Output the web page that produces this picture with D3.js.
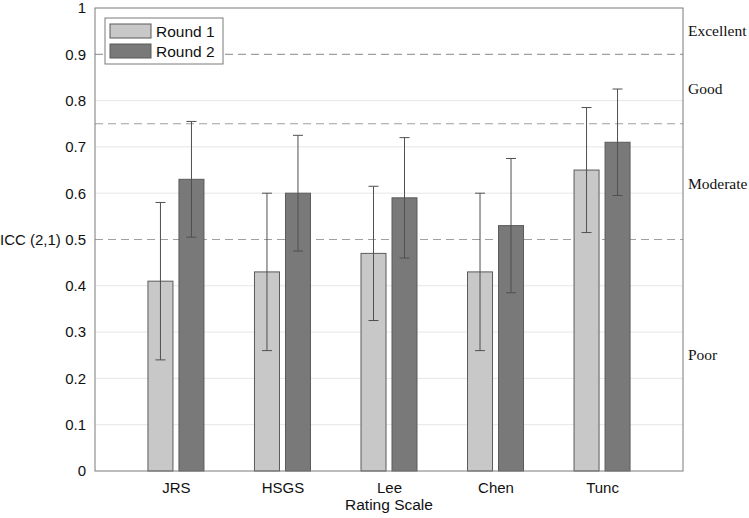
<!DOCTYPE html>
<html>
<head>
<meta charset="utf-8">
<script src="https://cdn.jsdelivr.net/npm/d3@7"></script>
<style>
  body { margin: 0; background: #fff; }
  text { font-family: "Liberation Sans", Arial, sans-serif; }
</style>
</head>
<body>
<svg id="chart" width="749" height="518"></svg>
<script>
// data
const scales = ["JRS", "HSGS", "Lee", "Chen", "Tunc"];
const round1 = [0.41, 0.43, 0.47, 0.43, 0.65];
const round2 = [0.63, 0.60, 0.59, 0.53, 0.71];
const round1Low = [0.24, 0.26, 0.325, 0.26, 0.515];
const round1High = [0.58, 0.60, 0.615, 0.60, 0.785];
const round2Low = [0.505, 0.475, 0.46, 0.385, 0.595];
const round2High = [0.755, 0.725, 0.72, 0.675, 0.825];
const yTicks = [0, 0.1, 0.2, 0.3, 0.4, 0.5, 0.6, 0.7, 0.8, 0.9, 1];
const thresholds = [0.5, 0.75, 0.9];
const bandLabels = [
  {name: "Excellent", v: 0.95},
  {name: "Good", v: 0.825},
  {name: "Moderate", v: 0.62},
  {name: "Poor", v: 0.25}
];

const mLeft = 95, mRight = 683, mTop = 8, mBottom = 471;
const svg = d3.select("#chart");

const x = d3.scalePoint().domain(scales).range([mLeft, mRight]).padding(0.76);
const y = d3.scaleLinear().domain([0, 1]).range([mBottom, mTop]);

// grid
svg.append("g").selectAll("line")
  .data(yTicks.filter(d => d > 0 && d < 1 && thresholds.indexOf(d) < 0))
  .enter().append("line")
  .attr("x1", mLeft).attr("x2", mRight)
  .attr("y1", d => y(d)).attr("y2", d => y(d))
  .attr("stroke", "#e6e6e6").attr("stroke-width", 1);

svg.append("g").selectAll("line")
  .data(thresholds)
  .enter().append("line")
  .attr("x1", mLeft).attr("x2", mRight)
  .attr("y1", d => y(d)).attr("y2", d => y(d))
  .attr("stroke", "#a0a0a0").attr("stroke-width", 1.2)
  .attr("stroke-dasharray", "8,5");

// bars
const bw = 25, gap = 3;
const series = [
  {vals: round1, lo: round1Low, hi: round1High, fill: "#c8c8c8", off: -gap - bw},
  {vals: round2, lo: round2Low, hi: round2High, fill: "#797979", off: gap}
];

series.forEach(s => {
  const g = svg.append("g");
  g.selectAll("rect").data(scales).enter().append("rect")
    .attr("x", (d) => x(d) + s.off)
    .attr("width", bw)
    .attr("y", (d, i) => y(s.vals[i]))
    .attr("height", (d, i) => mBottom - y(s.vals[i]))
    .attr("fill", s.fill)
    .attr("stroke", "#5a5a5a").attr("stroke-width", 1);

  const e = svg.append("g").attr("stroke", "#505050").attr("stroke-width", 1);
  scales.forEach((d, i) => {
    const cx = x(d) + s.off + bw / 2;
    e.append("line").attr("x1", cx).attr("x2", cx)
      .attr("y1", y(s.lo[i])).attr("y2", y(s.hi[i]));
    [s.lo[i], s.hi[i]].forEach(v => {
      e.append("line").attr("x1", cx - 5).attr("x2", cx + 5)
        .attr("y1", y(v)).attr("y2", y(v));
    });
  });
});

// frame
svg.append("rect")
  .attr("x", mLeft).attr("y", mTop)
  .attr("width", mRight - mLeft).attr("height", mBottom - mTop)
  .attr("fill", "none").attr("stroke", "#7a7a7a").attr("stroke-width", 1);

// axes
const yAxis = svg.append("g").attr("transform", `translate(${mLeft},0)`)
  .call(d3.axisLeft(y).tickValues(yTicks).tickSize(0).tickPadding(9).tickFormat(d3.format("")));
yAxis.select(".domain").remove();
yAxis.selectAll("text").attr("font-size", 15).attr("fill", "#111")
  .style("font-family", "'Liberation Sans', Arial, sans-serif");

const xAxis = svg.append("g").attr("transform", `translate(0,${mBottom})`)
  .call(d3.axisBottom(x).tickSize(0).tickPadding(11));
xAxis.select(".domain").remove();
xAxis.selectAll("text").attr("font-size", 15).attr("fill", "#111")
  .style("font-family", "'Liberation Sans', Arial, sans-serif");

// axis titles
svg.append("text").attr("x", 0).attr("y", 245)
  .attr("font-size", 15).attr("fill", "#111").text("ICC (2,1)");
svg.append("text").attr("x", (mLeft + mRight) / 2).attr("y", 510)
  .attr("text-anchor", "middle").attr("font-size", 15.5).attr("fill", "#111")
  .text("Rating Scale");

// reliability band labels
svg.append("g").selectAll("text").data(bandLabels).enter().append("text")
  .attr("x", mRight + 5).attr("y", d => y(d.v) + 5)
  .attr("font-size", 15.5).attr("fill", "#111")
  .style("font-family", "'Liberation Serif', 'Times New Roman', serif")
  .text(d => d.name);

// legend
const lg = svg.append("g").attr("transform", "translate(105,18)");
lg.append("rect").attr("width", 118).attr("height", 46)
  .attr("fill", "#fff").attr("stroke", "#7a7a7a");
["Round 1", "Round 2"].forEach((name, i) => {
  lg.append("rect").attr("x", 5).attr("y", 6 + i * 20)
    .attr("width", 41).attr("height", 14)
    .attr("fill", series[i].fill).attr("stroke", "#5a5a5a");
  lg.append("text").attr("x", 51).attr("y", 19 + i * 20)
    .attr("font-size", 15.5).attr("fill", "#111").text(name);
});
</script>
</body>
</html>
